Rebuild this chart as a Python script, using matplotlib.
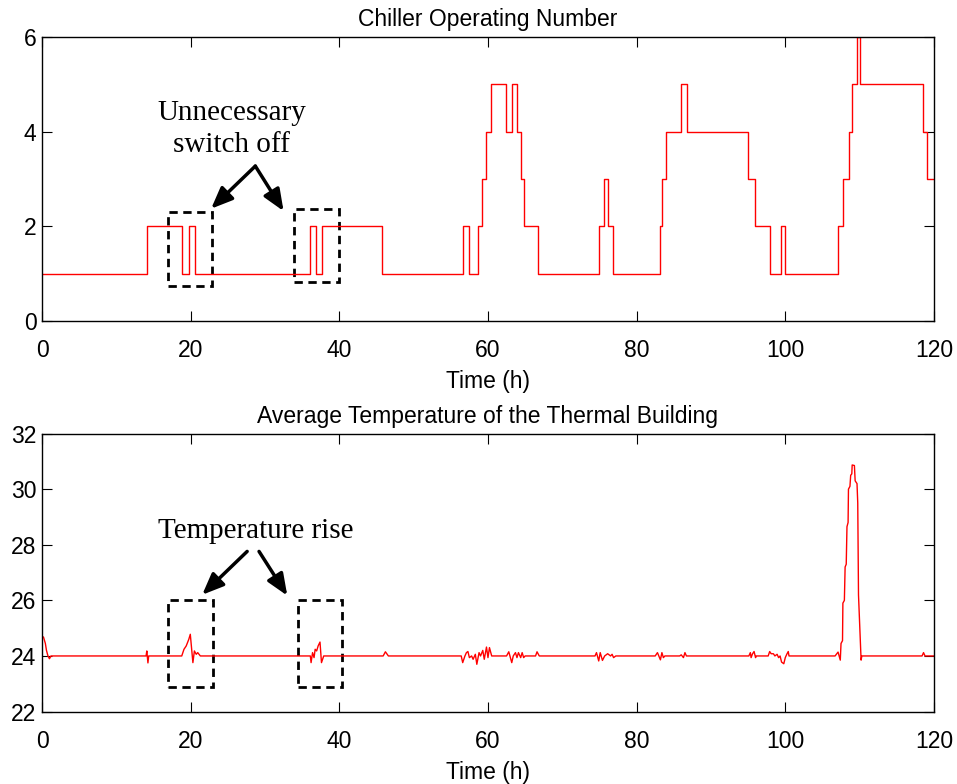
import matplotlib
matplotlib.use("Agg")
import matplotlib.pyplot as plt
from matplotlib.patches import Rectangle

plt.rcParams['font.family'] = ['Liberation Sans', 'DejaVu Sans']

# chiller operating number (step changes: time, new level)
chiller_t = [0, 14.1, 18.9, 19.8, 20.6, 36.1, 36.8, 37.7, 45.8,
             56.7, 57.4, 58.6, 59.2, 59.7, 60.4, 62.4, 63.2, 63.9, 64.4, 64.9, 66.7,
             74.9, 75.6, 76.1, 76.8, 83.1, 83.4, 83.9, 86.0, 86.8,
             95.0, 95.9, 97.9, 99.4, 100.0, 107.1, 107.8, 108.6, 109.0, 109.6, 110.1,
             118.5, 119.0, 120]
chiller_n = [1, 2, 1, 2, 1, 2, 1, 2, 1,
             2, 1, 2, 3, 4, 5, 4, 5, 4, 3, 2, 1,
             2, 3, 2, 1, 2, 3, 4, 5, 4,
             3, 2, 1, 2, 1, 2, 3, 4, 5, 6, 5,
             4, 3, 3]

# average building temperature (time, degC)
temp_t = [0, 0.2, 0.45, 0.6, 0.8, 1.0, 1.2,
          14.0, 14.1, 14.25, 14.35, 14.5,
          18.8, 19.1, 19.4, 19.6, 19.75, 19.95, 20.1, 20.3, 20.5, 20.75, 20.95, 21.3,
          36.1, 36.2, 36.4, 36.6, 36.75, 36.95, 37.15, 37.4, 37.6, 37.9,
          45.9, 46.2, 46.6, 47.2,
          56.0, 56.4, 56.6, 56.9, 57.1, 57.3, 57.5, 57.8, 58.0, 58.3, 58.5, 58.8, 59.0, 59.3,
          59.5, 59.8, 60.0, 60.2, 60.5,
          62.5, 62.8, 63.2, 63.4, 63.7, 63.9, 64.1, 64.4, 64.6, 64.8, 65.0,
          66.4, 66.6, 66.9, 67.2,
          74.4, 74.6, 74.9, 75.1, 75.4, 75.7, 76.1, 76.5, 76.7, 76.9, 77.2,
          82.5, 82.8, 83.2, 83.4, 83.6, 83.8,
          85.8, 86.0, 86.3, 86.5, 86.7,
          95.1, 95.3, 95.4, 95.6, 95.8, 96.0, 96.1,
          97.7, 97.9, 98.1, 98.4, 98.6, 98.9, 99.1, 99.3, 99.5, 99.8, 100.0, 100.2, 100.4, 100.5,
          106.7, 107.1, 107.4, 107.5, 107.7, 107.75, 107.95, 108.05, 108.2, 108.3, 108.45,
          108.5, 108.7, 108.8, 108.95, 109.0, 109.3, 109.4, 109.65, 109.75, 109.85,
          110.1, 110.2, 110.3,
          118.4, 118.6, 118.8, 120]
temp_v = [24.7, 24.68, 24.45, 24.2, 24.0, 23.9, 24.0,
          24.0, 24.18, 23.75, 24.0, 24.0,
          24.0, 24.24, 24.36, 24.5, 24.6, 24.78, 24.36, 23.76, 24.18, 24.06, 24.12, 24.0,
          24.0, 23.76, 24.12, 23.94, 24.24, 24.18, 24.36, 24.5, 23.76, 24.0,
          24.0, 24.15, 24.0, 24.0,
          24.0, 24.0, 23.76, 24.0, 24.12, 24.16, 23.94, 24.0, 23.88, 24.06, 23.7, 24.12, 24.0, 24.2,
          23.88, 24.32, 23.94, 24.3, 24.0,
          24.0, 24.15, 23.76, 24.0, 24.12, 23.94, 24.12, 23.94, 24.12, 23.94, 24.0,
          24.0, 24.15, 24.0, 24.0,
          24.0, 24.12, 23.82, 24.12, 23.84, 24.0, 24.08, 24.0, 24.06, 23.94, 24.0,
          24.0, 24.12, 23.86, 24.12, 23.94, 24.0,
          24.0, 24.04, 23.94, 24.12, 24.0,
          24.0, 24.12, 23.94, 24.08, 24.16, 23.94, 24.0,
          24.0, 24.16, 24.08, 24.08, 24.0, 24.06, 23.94, 24.0, 23.78, 23.72, 23.94, 24.06, 24.16, 24.0,
          24.0, 24.14, 23.85, 24.45, 24.55, 25.9, 26.0, 27.2, 27.3, 28.65, 28.8,
          30.0, 30.1, 30.5, 30.55, 30.87, 30.85, 30.3, 30.2, 29.5, 26.2,
          24.45, 23.85, 24.0,
          24.0, 24.12, 24.0, 24.0]

fig = plt.figure(figsize=(9.57, 7.84), dpi=100)
ax1 = fig.add_axes([0.0439, 0.5906, 0.932, 0.3625])
ax2 = fig.add_axes([0.0439, 0.0924, 0.932, 0.3546])

ax1.step(chiller_t, chiller_n, where='post', color='red', lw=1.0)
ax1.set_xlim(0, 120)
ax1.set_ylim(0, 6)
ax1.set_yticks([0, 2, 4, 6])
ax1.set_title('Chiller Operating Number', fontsize=16.5, pad=7.5)

ax2.plot(temp_t, temp_v, color='red', lw=1.0)
ax2.set_xlim(0, 120)
ax2.set_ylim(22, 32)
ax2.set_yticks([22, 24, 26, 28, 30, 32])
ax2.set_title('Average Temperature of the Thermal Building', fontsize=16.5, pad=7.5)

for ax in (ax1, ax2):
    ax.set_xticks(range(0, 121, 20))
    ax.set_xlabel('Time (h)', fontsize=16.5, labelpad=6)
    ax.tick_params(direction='in', top=True, right=True, length=7, labelsize=16.5)
    ax.tick_params(axis='x', pad=13)
    ax.tick_params(axis='y', pad=4)
    for s in ax.spines.values():
        s.set_linewidth(1.0)

box = dict(fill=False, edgecolor='black', lw=2, linestyle=(0, (3, 2)))
arrow = dict(arrowstyle='-|>,head_length=0.65,head_width=0.27', color='black', lw=2.5,
             mutation_scale=20, shrinkA=0, shrinkB=0)
serif = ['Liberation Serif', 'DejaVu Serif']

# top annotations
ax1.add_patch(Rectangle((17.0, 0.74), 5.9, 1.56, **box))
ax1.add_patch(Rectangle((33.9, 0.82), 6.0, 1.55, **box))
ax1.text(25.5, 4.05, 'Unnecessary\nswitch off', ha='center', va='center',
         fontsize=21, family=serif, linespacing=1.3)
ax1.annotate('', xy=(22.75, 2.37), xytext=(28.7, 3.27), arrowprops=arrow)
ax1.annotate('', xy=(32.5, 2.32), xytext=(28.7, 3.27), arrowprops=arrow)

# bottom annotations
ax2.add_patch(Rectangle((17.0, 22.9), 6.0, 3.1, **box))
ax2.add_patch(Rectangle((34.4, 22.9), 6.0, 3.1, **box))
ax2.text(28.7, 28.5, 'Temperature rise', ha='center', va='center',
         fontsize=21, family=serif)
ax2.annotate('', xy=(21.55, 26.2), xytext=(27.6, 27.76), arrowprops=arrow)
ax2.annotate('', xy=(33.0, 26.17), xytext=(29.2, 27.76), arrowprops=arrow)

fig.savefig('out.png', dpi=100)
